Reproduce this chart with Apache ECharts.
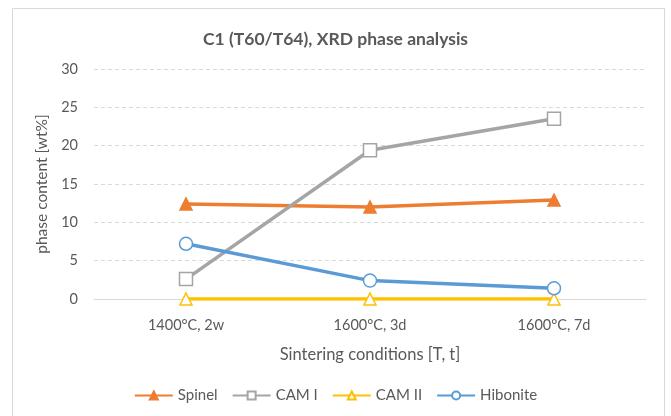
<!DOCTYPE html>
<html><head><meta charset="utf-8">
<script src="https://cdn.jsdelivr.net/npm/echarts@6/dist/echarts.min.js"></script>
<style>html,body{margin:0;padding:0;background:#fff}#c{width:671px;height:416px}</style>
</head><body><div id="c"></div>
<script>
const categories = ['1400°C, 2w', '1600°C, 3d', '1600°C, 7d'];
const spinel = [12.4, 12.0, 12.9];
const camI = [2.6, 19.4, 23.5];
const camII = [0, 0, 0];
const hibonite = [7.2, 2.4, 1.4];
const yTicks = [0, 5, 10, 15, 20, 25, 30];

const font = 'Lato, "Open Sans", sans-serif';
const chart = echarts.init(document.getElementById('c'));
function ser(name, data, color, symbol, filled, size) {
  return {
    name, type: 'line', data, symbol, symbolSize: size,
    lineStyle: { color, width: 3.5 },
    itemStyle: { color: filled ? color : '#fff', borderColor: color, borderWidth: 1.5 },
    emphasis: { disabled: true }, animation: false
  };
}
chart.setOption({
  animation: false,
  graphic: [{ type: 'rect', shape: { x: 12.5, y: 8.5, width: 652, height: 420 },
    style: { fill: 'none', stroke: '#d9d9d9', lineWidth: 1 }, silent: true }],
  title: { text: 'C1 (T60/T64), XRD phase analysis', left: 'center', top: 25,
    textStyle: { fontFamily: font, fontSize: 17.5, fontWeight: 'bold', color: '#595959' } },
  grid: { left: 94, right: 25, top: 69, bottom: 117 },
  xAxis: {
    type: 'category', data: categories, boundaryGap: true,
    name: 'Sintering conditions [T, t]', nameLocation: 'middle', nameGap: 47,
    nameTextStyle: { fontFamily: font, fontSize: 16.5, color: '#595959' },
    axisLine: { lineStyle: { color: '#d9d9d9' } },
    axisTick: { show: false },
    axisLabel: { fontFamily: font, fontSize: 14.5, color: '#595959', margin: 19 }
  },
  yAxis: {
    type: 'value', min: 0, max: 30, interval: 5,
    name: 'phase content [wt%]', nameLocation: 'middle', nameGap: 38,
    nameTextStyle: { fontFamily: font, fontSize: 15.5, color: '#595959' },
    axisLine: { show: false }, axisTick: { show: false },
    axisLabel: { fontFamily: font, fontSize: 14.5, color: '#595959', margin: 16,
      formatter: v => yTicks.includes(v) ? String(v) : '' },
    splitLine: { lineStyle: { color: '#d9d9d9', type: [4, 3] } }
  },
  legend: {
    bottom: 8, left: 'center', itemWidth: 38, itemHeight: 10, itemGap: 14,
    textStyle: { fontFamily: font, fontSize: 15, color: '#595959' },
    data: ['Spinel', 'CAM I', 'CAM II', 'Hibonite']
  },
  series: [
    ser('Spinel', spinel, '#ed7d31', 'triangle', true, 12),
    ser('CAM I', camI, '#a5a5a5', 'rect', false, 13),
    ser('CAM II', camII, '#ffc000', 'triangle', false, 12),
    ser('Hibonite', hibonite, '#5b9bd5', 'circle', false, 13)
  ]
});
</script></body></html>
